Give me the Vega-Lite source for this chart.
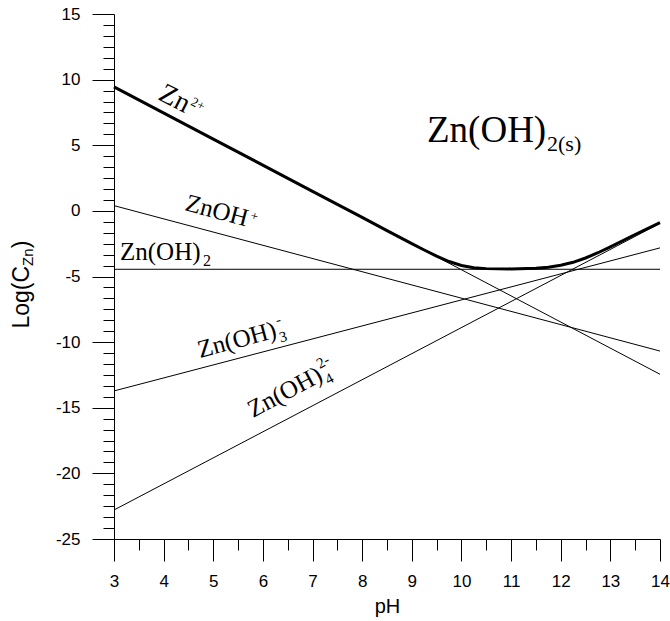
{
  "$schema": "https://vega.github.io/schema/vega-lite/v6.json",
  "width": 546,
  "height": 525,
  "autosize": {"type": "none"},
  "padding": {"left": 114, "top": 14, "right": 10, "bottom": 82},
  "background": "white",
  "config": {
    "view": {"stroke": null},
    "axis": {"grid": false, "domainColor": "black", "tickColor": "black", "labelColor": "black", "titleColor": "black", "labelFont": "Liberation Sans", "titleFont": "Liberation Sans", "titleFontWeight": "normal"},
    "text": {"font": "Liberation Serif", "color": "black"}
  },
  "resolve": {"axis": {"x": "independent", "y": "independent"}},
  "datasets": {
    "species": [
      {"species": "Zn2+", "pH": 3, "logC": 9.45},
      {"species": "Zn2+", "pH": 14, "logC": -12.45},
      {"species": "ZnOH+", "pH": 3, "logC": 0.4},
      {"species": "ZnOH+", "pH": 14, "logC": -10.68},
      {"species": "Zn(OH)2", "pH": 3, "logC": -4.45},
      {"species": "Zn(OH)2", "pH": 14, "logC": -4.45},
      {"species": "Zn(OH)3-", "pH": 3, "logC": -13.72},
      {"species": "Zn(OH)3-", "pH": 14, "logC": -2.82},
      {"species": "Zn(OH)4 2-", "pH": 3, "logC": -22.79},
      {"species": "Zn(OH)4 2-", "pH": 14, "logC": -0.95}
    ],
    "total": [
      {"pH": 3, "logC": 9.45},
      {"pH": 5, "logC": 5.47},
      {"pH": 7, "logC": 1.49},
      {"pH": 8, "logC": -0.5},
      {"pH": 8.5, "logC": -1.5},
      {"pH": 9, "logC": -2.49},
      {"pH": 9.25, "logC": -2.98},
      {"pH": 9.5, "logC": -3.45},
      {"pH": 9.75, "logC": -3.86},
      {"pH": 10, "logC": -4.16},
      {"pH": 10.25, "logC": -4.33},
      {"pH": 10.5, "logC": -4.4},
      {"pH": 11, "logC": -4.42},
      {"pH": 11.5, "logC": -4.37},
      {"pH": 11.75, "logC": -4.29},
      {"pH": 12, "logC": -4.14},
      {"pH": 12.25, "logC": -3.92},
      {"pH": 12.5, "logC": -3.59},
      {"pH": 12.75, "logC": -3.19},
      {"pH": 13, "logC": -2.74},
      {"pH": 13.5, "logC": -1.8},
      {"pH": 14, "logC": -0.9}
    ]
  },
  "layer": [
    {
      "data": {"name": "species"},
      "mark": {"type": "line", "stroke": "black", "strokeWidth": 1},
      "encoding": {
        "x": {"field": "pH", "type": "quantitative", "scale": {"domain": [3, 14], "nice": false, "zero": false},
          "axis": {"orient": "bottom", "values": [3, 4, 5, 6, 7, 8, 9, 10, 11, 12, 13, 14], "tickSize": 22, "tickWidth": 1, "domainWidth": 1, "labelFontSize": 17, "labelPadding": 12, "labelFlush": false, "labelOverlap": false, "labelExpr": "'' + datum.value",
            "title": "pH", "titleFontSize": 20, "titleX": 273, "titleY": 73, "titleBaseline": "alphabetic", "titleAlign": "center"}},
        "y": {"field": "logC", "type": "quantitative", "scale": {"domain": [-25, 15], "nice": false, "zero": false},
          "axis": {"orient": "left", "values": [-25, -20, -15, -10, -5, 0, 5, 10, 15], "tickSize": 22, "tickWidth": 1, "domainWidth": 1, "labelFontSize": 17, "labelPadding": 12, "labelFlush": false, "labelOverlap": false, "labelExpr": "'' + datum.value",
            "title": "Log(C", "titleFontSize": 23, "titleAngle": 270, "titleX": -86, "titleY": 314, "titleAlign": "left", "titleBaseline": "alphabetic"}},
        "detail": {"field": "species"}
      }
    },
    {
      "data": {"name": "total"},
      "mark": {"type": "line", "stroke": "black", "strokeWidth": 3},
      "encoding": {
        "x": {"field": "pH", "type": "quantitative", "scale": {"domain": [3, 14], "nice": false, "zero": false},
          "axis": {"orient": "bottom", "values": [3.5, 4.5, 5.5, 6.5, 7.5, 8.5, 9.5, 10.5, 11.5, 12.5, 13.5], "tickSize": 11, "tickWidth": 1, "domain": false, "labels": false, "title": null}},
        "y": {"field": "logC", "type": "quantitative", "scale": {"domain": [-25, 15], "nice": false, "zero": false},
          "axis": {"orient": "left", "values": [-24.1667, -23.3333, -22.5, -21.6667, -20.8333, -19.1667, -18.3333, -17.5, -16.6667, -15.8333, -14.1667, -13.3333, -12.5, -11.6667, -10.8333, -9.1667, -8.3333, -7.5, -6.6667, -5.8333, -4.1667, -3.3333, -2.5, -1.6667, -0.8333, 0.8333, 1.6667, 2.5, 3.3333, 4.1667, 5.8333, 6.6667, 7.5, 8.3333, 9.1667, 10.8333, 11.6667, 12.5, 13.3333, 14.1667], "tickSize": 11, "tickWidth": 1, "domain": false, "labels": false, "title": null}}
      }
    },
    {
      "data": {"values": [{"pH": 3.866, "logC": 8.524, "t": "Zn"}]},
      "mark": {"type": "text", "align": "left", "baseline": "alphabetic", "angle": 27, "fontSize": 28},
      "encoding": {
        "x": {"field": "pH", "type": "quantitative", "axis": null},
        "y": {"field": "logC", "type": "quantitative", "axis": {"orient": "left", "domain": false, "ticks": false, "labels": false, "title": "Zn", "titleFontSize": 15, "titleAngle": 270, "titleX": -81.5, "titleY": 251.4, "titleAlign": "left", "titleBaseline": "alphabetic"}},
        "text": {"field": "t"}
      }
    },
    {
      "data": {"values": [{"pH": 3.866, "logC": 8.524, "t": "2+"}]},
      "mark": {"type": "text", "align": "left", "baseline": "alphabetic", "angle": 27, "fontSize": 13, "dx": 32, "dy": -10},
      "encoding": {
        "x": {"field": "pH", "type": "quantitative", "axis": null},
        "y": {"field": "logC", "type": "quantitative", "axis": {"orient": "left", "domain": false, "ticks": false, "labels": false, "title": ")", "titleFontSize": 23, "titleAngle": 270, "titleX": -86, "titleY": 233.8, "titleAlign": "left", "titleBaseline": "alphabetic"}},
        "text": {"field": "t"}
      }
    },
    {
      "data": {"values": [{"pH": 4.41, "logC": 0.067, "t": "ZnOH"}]},
      "mark": {"type": "text", "align": "left", "baseline": "alphabetic", "angle": 15, "fontSize": 25},
      "encoding": {
        "x": {"field": "pH", "type": "quantitative", "axis": null},
        "y": {"field": "logC", "type": "quantitative", "axis": null},
        "text": {"field": "t"}
      }
    },
    {
      "data": {"values": [{"pH": 4.41, "logC": 0.067, "t": "+"}]},
      "mark": {"type": "text", "align": "left", "baseline": "alphabetic", "angle": 15, "fontSize": 13, "dx": 66, "dy": -8},
      "encoding": {
        "x": {"field": "pH", "type": "quantitative", "axis": null},
        "y": {"field": "logC", "type": "quantitative", "axis": null},
        "text": {"field": "t"}
      }
    },
    {
      "data": {"values": [{"pH": 3.121, "logC": -3.743, "t": "Zn(OH)"}]},
      "mark": {"type": "text", "align": "left", "baseline": "alphabetic", "fontSize": 25},
      "encoding": {
        "x": {"field": "pH", "type": "quantitative", "axis": null},
        "y": {"field": "logC", "type": "quantitative", "axis": null},
        "text": {"field": "t"}
      }
    },
    {
      "data": {"values": [{"pH": 3.121, "logC": -3.743, "t": "2"}]},
      "mark": {"type": "text", "align": "left", "baseline": "alphabetic", "fontSize": 16, "dx": 83, "dy": 6},
      "encoding": {
        "x": {"field": "pH", "type": "quantitative", "axis": null},
        "y": {"field": "logC", "type": "quantitative", "axis": null},
        "text": {"field": "t"}
      }
    },
    {
      "data": {"values": [{"pH": 4.733, "logC": -11.21, "t": "Zn(OH)"}]},
      "mark": {"type": "text", "align": "left", "baseline": "alphabetic", "angle": 345, "fontSize": 25},
      "encoding": {
        "x": {"field": "pH", "type": "quantitative", "axis": null},
        "y": {"field": "logC", "type": "quantitative", "axis": null},
        "text": {"field": "t"}
      }
    },
    {
      "data": {"values": [{"pH": 4.733, "logC": -11.21, "t": "3"}]},
      "mark": {"type": "text", "align": "left", "baseline": "alphabetic", "angle": 345, "fontSize": 15, "dx": 82, "dy": 6},
      "encoding": {
        "x": {"field": "pH", "type": "quantitative", "axis": null},
        "y": {"field": "logC", "type": "quantitative", "axis": null},
        "text": {"field": "t"}
      }
    },
    {
      "data": {"values": [{"pH": 4.733, "logC": -11.21, "t": "-"}]},
      "mark": {"type": "text", "align": "left", "baseline": "alphabetic", "angle": 345, "fontSize": 15, "dx": 83, "dy": -12},
      "encoding": {
        "x": {"field": "pH", "type": "quantitative", "axis": null},
        "y": {"field": "logC", "type": "quantitative", "axis": null},
        "text": {"field": "t"}
      }
    },
    {
      "data": {"values": [{"pH": 5.8, "logC": -15.78, "t": "Zn(OH)"}]},
      "mark": {"type": "text", "align": "left", "baseline": "alphabetic", "angle": 332, "fontSize": 25},
      "encoding": {
        "x": {"field": "pH", "type": "quantitative", "axis": null},
        "y": {"field": "logC", "type": "quantitative", "axis": null},
        "text": {"field": "t"}
      }
    },
    {
      "data": {"values": [{"pH": 5.8, "logC": -15.78, "t": "4"}]},
      "mark": {"type": "text", "align": "left", "baseline": "alphabetic", "angle": 332, "fontSize": 15, "dx": 82, "dy": 6},
      "encoding": {
        "x": {"field": "pH", "type": "quantitative", "axis": null},
        "y": {"field": "logC", "type": "quantitative", "axis": null},
        "text": {"field": "t"}
      }
    },
    {
      "data": {"values": [{"pH": 5.8, "logC": -15.78, "t": "2-"}]},
      "mark": {"type": "text", "align": "left", "baseline": "alphabetic", "angle": 332, "fontSize": 15, "dx": 82, "dy": -12},
      "encoding": {
        "x": {"field": "pH", "type": "quantitative", "axis": null},
        "y": {"field": "logC", "type": "quantitative", "axis": null},
        "text": {"field": "t"}
      }
    },
    {
      "data": {"values": [{"pH": 9.306, "logC": 5.248, "t": "Zn(OH)"}]},
      "mark": {"type": "text", "align": "left", "baseline": "alphabetic", "fontSize": 37},
      "encoding": {
        "x": {"field": "pH", "type": "quantitative", "axis": null},
        "y": {"field": "logC", "type": "quantitative", "axis": null},
        "text": {"field": "t"}
      }
    },
    {
      "data": {"values": [{"pH": 9.306, "logC": 5.248, "t": "2(s)"}]},
      "mark": {"type": "text", "align": "left", "baseline": "alphabetic", "fontSize": 22, "dx": 120, "dy": 9},
      "encoding": {
        "x": {"field": "pH", "type": "quantitative", "axis": null},
        "y": {"field": "logC", "type": "quantitative", "axis": null},
        "text": {"field": "t"}
      }
    }
  ]
}
